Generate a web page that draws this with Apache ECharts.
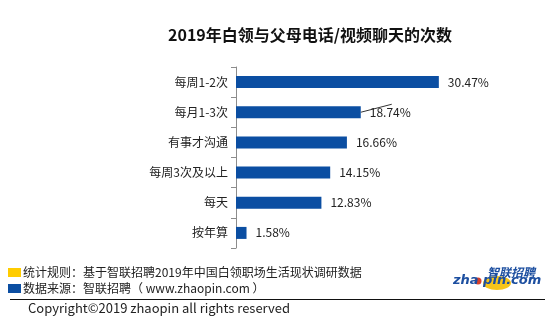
<!DOCTYPE html>
<html>
<head>
<meta charset="utf-8">
<script src="https://cdn.jsdelivr.net/npm/echarts@6/dist/echarts.min.js"></script>
<style>
  html, body { margin: 0; padding: 0; background: #fff; }
  #chart { width: 554px; height: 323px; }
</style>
</head>
<body>
<div id="chart"></div>
<script>
// Frequency categories (top to bottom) and share of respondents, %
const categories = ['每周1-2次', '每月1-3次', '有事才沟通', '每周3次及以上', '每天', '按年算'];
const shares = [30.47, 18.74, 16.66, 14.15, 12.83, 1.58];

const titleText = '2019年白领与父母电话/视频聊天的次数';
const noteRule = '统计规则：基于智联招聘2019年中国白领职场生活现状调研数据';
const noteSource = '数据来源：智联招聘（ www.zhaopin.com ）';
const copyrightText = 'Copyright©2019 zhaopin all rights reserved';

const CJK = '"Noto Sans CJK SC", "Microsoft YaHei", sans-serif';
const BLUE = '#0b4ea2';

const chart = echarts.init(document.getElementById('chart'));

chart.setOption({
  animation: false,
  title: {
    text: titleText,
    left: 168,
    top: 27,
    padding: 0,
    textStyle: { fontFamily: CJK, fontSize: 16, fontWeight: 'bold', color: '#111' }
  },
  grid: { left: 236, top: 67, width: 233, height: 181, containLabel: false },
  xAxis: { type: 'value', min: 0, max: 35, show: false },
  yAxis: {
    type: 'category',
    data: categories,
    inverse: true,
    axisLine: { lineStyle: { color: '#8c8c8c', width: 1 } },
    axisTick: { show: true, length: 5, lineStyle: { color: '#8c8c8c' } },
    axisLabel: { margin: 8, fontFamily: CJK, fontSize: 12, color: '#222' }
  },
  series: [{
    type: 'bar',
    data: shares,
    barWidth: 12,
    itemStyle: { color: BLUE },
    label: {
      show: true,
      position: 'right',
      distance: 9,
      fontFamily: CJK,
      fontSize: 12,
      color: '#222',
      formatter: p => p.value.toFixed(2) + '%'
    }
  }],
  graphic: {
    elements: [
      // footnote markers and notes
      { id: 'mk1', type: 'rect', shape: { x: 8, y: 268, width: 13, height: 9 }, style: { fill: '#ffcc00' } },
      { id: 'mk2', type: 'rect', shape: { x: 8, y: 284, width: 13, height: 9 }, style: { fill: BLUE } },
      { id: 'n1', type: 'text', x: 23, y: 266, style: { text: noteRule, font: '12px ' + CJK, fill: '#222' } },
      { id: 'n2', type: 'text', x: 23, y: 282, style: { text: noteSource, font: '12px ' + CJK, fill: '#222' } },
      { id: 'cp', type: 'text', x: 28, y: 302, style: { text: copyrightText, font: '13px ' + CJK, fill: '#222' } },
      // brand logo
      { id: 'lg1', type: 'ellipse', shape: { cx: 497, cy: 283, rx: 14, ry: 7 }, style: { fill: '#f7c51a' } },
      { id: 'lg2', type: 'circle', shape: { cx: 478, cy: 281, r: 3.5 }, style: { fill: '#d8402a' } },
      { id: 'lg3', type: 'text', x: 487, y: 266, style: { text: '智联招聘', font: 'italic bold 12px ' + CJK, fill: '#1d4fa0' } },
      { id: 'lg4', type: 'text', x: 453, y: 274, style: { text: 'zha pin.com', font: 'italic bold 13px "DejaVu Sans", sans-serif', fill: '#1d4fa0' } },
      // separator rule under the notes, on its own canvas layer
      { id: 'rule', type: 'rect', zlevel: 1, shape: { x: 10, y: 299, width: 535, height: 1 }, style: { fill: '#111' } }
    ]
  }
});

// Leader stroke beside the second bar's value label, anchored at the bar end
const end = chart.convertToPixel({ gridIndex: 0 }, [shares[1], categories[1]]);
chart.setOption({
  graphic: {
    elements: [
      { id: 'leader', type: 'line', shape: { x1: end[0], y1: end[1], x2: end[0] + 31, y2: end[1] - 8 },
        style: { stroke: '#333', lineWidth: 1 } }
    ]
  }
});
</script>
</body>
</html>
